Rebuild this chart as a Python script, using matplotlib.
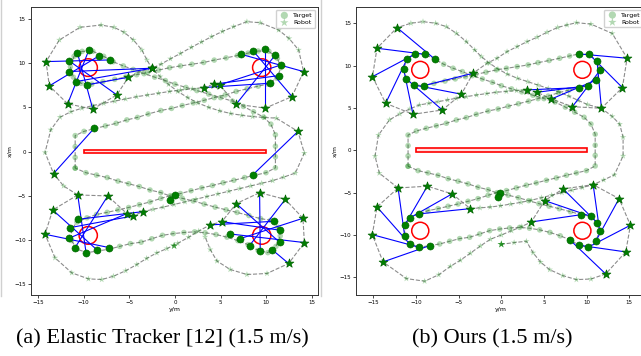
import matplotlib.pyplot as plt
from matplotlib.patches import Circle, Rectangle
from matplotlib.lines import Line2D

# target trajectory (same for both runs)
target_path = [
    (-10.93, -1.88), (-10.93, -0.67), (-10.93, 0.55), (-10.93, 1.8),
    (-9.96, 2.28), (-8.79, 2.6), (-7.62, 2.9), (-6.44, 3.19), (-5.27, 3.58), (-4.1, 3.86),
    (-2.93, 4.25), (-1.55, 4.64), (-0.38, 4.88), (0.8, 5.2), (2.0, 5.5), (3.2, 5.8),
    (4.3, 6.1), (5.5, 6.4), (6.7, 6.8), (7.9, 7.1),
    (9.11, 7.40), (10.17, 7.63), (11.14, 8.31), (11.61, 9.49), (11.22, 10.55), (10.29, 11.34), (9.11, 11.38),
    (8.0, 11.14), (6.84, 10.87), (5.6, 10.6), (4.3, 10.35), (3.14, 10.08), (1.85, 9.88), (0.6, 9.69),
    (-0.58, 9.49), (-1.8, 9.22), (-3.0, 8.95), (-4.2, 8.69), (-5.4, 8.43), (-6.6, 8.17), (-7.9, 7.9),
    (-9.10, 7.63), (-10.28, 7.72), (-11.13, 8.42), (-11.45, 9.6), (-11.05, 10.78), (-10.16, 11.34),
    (-8.99, 11.34), (-7.81, 10.78),
    (-6.76, 10.16), (-5.66, 9.69), (-4.57, 9.29), (-3.39, 8.81), (-2.22, 8.42), (-1.05, 8.03), (0.0, 7.63),
    (1.2, 7.25), (2.4, 6.9), (3.7, 6.5), (5.0, 6.1), (6.3, 5.7), (7.5, 5.1), (8.6, 4.5), (9.7, 3.9), (10.5, 3.1),
    (11.0, 1.9), (11.0, 0.6), (11.0, -0.6), (11.0, -1.85),
    (9.97, -2.4), (8.8, -2.67), (7.63, -2.95), (6.45, -3.26), (5.28, -3.54), (4.1, -3.85), (2.93, -4.12),
    (1.76, -4.44), (0.6, -4.76), (-0.5, -5.0), (-1.55, -5.31), (-2.73, -5.71), (-3.9, -6.02), (-5.07, -6.34),
    (-6.24, -6.61), (-7.42, -6.89), (-8.59, -7.13),
    (-9.64, -7.51), (-10.74, -7.99), (-11.33, -8.85), (-11.33, -10.08), (-10.74, -11.06), (-9.64, -11.45), (-8.4, -11.26),
    (-7.22, -11.06), (-6.05, -10.74), (-4.88, -10.43), (-3.71, -10.27), (-2.54, -9.88), (-1.37, -9.49),
    (-0.19, -9.3), (0.98, -9.17), (2.15, -9.1), (3.3, -9.2), (4.5, -9.4), (5.7, -9.7), (6.9, -10.1),
    (8.01, -10.55), (9.11, -11.21), (10.17, -11.45), (11.06, -10.74), (11.53, -9.56), (11.26, -8.58),
    (10.47, -7.79), (9.38, -7.6),
    (8.1, -7.25), (6.8, -6.9), (5.6, -6.6), (4.4, -6.3), (3.2, -5.95), (2.0, -5.6), (0.8, -5.3), (-0.38, -5.1),
    (-1.55, -4.65), (-2.73, -4.36), (-3.9, -3.97), (-5.07, -3.65), (-6.24, -3.35), (-7.42, -2.95),
    (-8.59, -2.67), (-9.76, -2.4), (-10.93, -1.88),
]

# (a) Elastic Tracker
robot_path_a = [
    (-10.65, -4.92), (-12.2, -3.9), (-13.3, -2.5), (-14.23, -0.11), (-13.6, 2.46), (-12.59, 3.89),
    (-11.4, 4.5), (-10.2, 4.9), (-9.0, 5.2), (-7.8, 5.45), (-6.6, 5.7), (-5.4, 5.95), (-4.2, 6.2), (-3.0, 6.4),
    (-1.8, 6.6), (-0.6, 6.8), (0.6, 6.95), (1.9, 7.1),
    (3.13, 7.24), (4.22, 7.62), (4.88, 7.54), (6.71, 5.36), (9.89, 4.91), (12.82, 6.22), (14.09, 9.05),
    (13.54, 11.5), (12.5, 12.8), (11.35, 13.76), (9.34, 14.58), (7.88, 14.7), (6.42, 14.13), (5.2, 13.6),
    (4.0, 13.0), (2.9, 12.4), (1.8, 11.8), (0.6, 11.1), (-0.5, 10.5), (-1.5, 9.9),
    (-2.53, 9.43), (-3.82, 9.05), (-5.1, 8.41), (-6.37, 6.41), (-9.0, 4.8), (-11.75, 5.4), (-13.76, 7.43),
    (-14.12, 10.18), (-12.66, 12.63), (-10.4, 14.06), (-8.09, 14.32), (-6.67, 14.06), (-5.57, 13.5),
    (-4.55, 12.63), (-3.63, 11.5), (-3.08, 10.37), (-2.53, 9.43),
    (-1.62, 8.48), (-0.7, 7.6), (0.3, 6.8), (1.4, 6.1), (2.5, 5.5), (3.7, 5.0), (4.9, 4.6), (6.1, 4.3),
    (7.3, 4.1), (8.5, 3.95), (9.8, 3.85), (11.1, 3.78),
    (13.47, 2.27), (14.17, -0.18), (13.18, -2.44), (11.9, -2.9), (10.7, -3.3), (9.5, -3.6), (8.3, -3.9),
    (7.1, -4.2), (5.9, -4.5), (4.7, -4.8), (3.5, -5.1), (2.3, -5.4), (1.1, -5.7), (-0.1, -6.0), (-1.3, -6.3),
    (-2.4, -6.55),
    (-3.52, -6.81), (-4.55, -7.29), (-5.27, -7.03), (-7.36, -5.03), (-10.65, -4.92), (-13.39, -6.62),
    (-14.23, -9.37), (-13.14, -12.04), (-11.3, -13.74), (-9.48, -14.42), (-8.02, -14.5), (-6.74, -14.12),
    (-5.4, -13.5), (-4.18, -12.8), (-3.1, -12.1), (-1.99, -11.48), (-0.9, -11.0), (0.3, -10.4),
    (1.5, -9.7), (2.6, -9.0), (3.86, -8.31),
    (5.14, -7.94), (6.71, -5.9), (9.27, -4.66), (12.08, -5.42), (14.02, -7.56), (14.17, -10.31),
    (12.45, -12.68), (10.08, -13.81), (7.88, -13.93), (6.05, -13.36), (4.6, -12.4), (3.86, -11.1), (3.3, -9.67),
]
snap_target_a = [
    (-9.66, 7.54), (-10.83, 7.92), (-11.64, 9.05), (-11.57, 10.25), (-10.69, 11.19), (-9.44, 11.46),
    (-8.28, 10.85), (-7.07, 10.37),
    (10.44, 7.73), (11.35, 8.59), (11.61, 9.8), (10.99, 10.93), (9.89, 11.58), (8.54, 11.42), (7.22, 11.01),
    (-10.65, -7.68), (-11.49, -8.62), (-11.6, -9.82), (-10.94, -10.88), (-9.74, -11.44), (-8.5, -11.18),
    (-7.21, -10.88),
    (5.98, -9.33), (7.07, -9.89), (8.17, -10.65), (9.34, -11.29), (10.62, -11.1), (11.46, -10.28),
    (11.54, -8.92), (10.88, -7.9),
    (-8.83, 2.65), (8.54, -2.63),
]
snap_robot_a = [
    (-5.1, 8.41), (-2.53, 9.43), (-2.53, 9.43), (-6.37, 6.41), (-9.0, 4.8), (-11.75, 5.4),
    (-13.76, 7.43), (-14.12, 10.18),
    (3.13, 7.24), (4.22, 7.62), (4.88, 7.54), (6.71, 5.36), (9.89, 4.91), (12.82, 6.22), (14.09, 9.05),
    (-3.52, -6.81), (-4.55, -7.29), (-5.27, -7.03), (-7.36, -5.03), (-10.65, -4.92), (-13.39, -6.62),
    (-14.23, -9.37),
    (14.17, -10.31), (14.02, -7.56), (12.08, -5.42), (9.27, -4.66), (12.45, -12.68), (6.71, -5.9),
    (5.14, -7.94), (3.86, -8.31),
    (-13.3, -2.5), (13.47, 2.27),
]
start_target_a = [(0.02, -4.92), (-0.53, -5.49)]
start_robot_a = [(-0.09, -10.68)]

# (b) Ours
robot_path_b = [
    (-12.1, -4.45), (-14.3, -2.7), (-14.8, -0.7), (-14.4, 1.8), (-13.1, 3.6),
    (-11.9, 4.3), (-10.7, 4.9), (-9.6, 5.35), (-8.5, 5.55), (-7.4, 5.74), (-6.3, 5.95), (-5.3, 6.14),
    (-4.1, 6.33), (-2.9, 6.53), (-1.7, 6.7), (-0.6, 6.85), (0.6, 6.95), (1.8, 7.05),
    (3.02, 7.13), (4.19, 6.85), (5.87, 6.06), (8.33, 5.15), (11.73, 4.96), (14.19, 7.4), (14.74, 10.87),
    (13.0, 13.8), (10.5, 14.9), (8.8, 15.07), (7.7, 14.8), (6.6, 14.5), (5.36, 13.94), (4.19, 13.35),
    (3.02, 12.83), (1.85, 12.24), (0.67, 11.65), (-0.5, 10.87), (-1.67, 10.28),
    (-3.31, 9.1), (-4.68, 6.62), (-6.91, 4.76), (-10.35, 4.25), (-13.56, 5.55), (-15.1, 8.7),
    (-14.57, 12.05), (-12.22, 14.48),
    (-10.6, 15.0), (-9.18, 15.19), (-7.7, 15.0), (-6.44, 14.6), (-5.27, 13.82), (-4.1, 12.83),
    (-3.12, 11.85), (-2.34, 11.06), (-1.4, 10.3), (-0.4, 9.6), (0.7, 9.0), (1.9, 8.5), (3.1, 8.1),
    (4.3, 7.7), (5.5, 7.3), (6.7, 6.9), (7.9, 6.4), (9.0, 5.9), (10.1, 5.4), (11.73, 4.96),
    (13.0, 4.0), (13.87, 3.08), (14.27, 1.54), (14.27, -0.67), (13.25, -2.9), (12.0, -3.5), (10.76, -4.06),
    (9.5, -4.4), (8.3, -4.7), (7.1, -5.0), (5.9, -5.3), (4.7, -5.6), (3.5, -5.9), (2.3, -6.15), (1.1, -6.35),
    (-0.1, -6.55), (-1.3, -6.7), (-2.5, -6.8),
    (-3.63, -6.89), (-5.77, -5.15), (-8.67, -4.24), (-12.1, -4.45), (-14.57, -6.69), (-15.12, -9.96),
    (-13.86, -13.18), (-11.13, -15.15), (-8.99, -15.46), (-7.34, -14.7), (-5.97, -13.7), (-4.8, -12.98),
    (-3.63, -12.15), (-2.46, -11.3), (-1.28, -10.5), (0.0, -10.0), (1.2, -9.5), (2.4, -9.0),
    (3.52, -8.46), (5.08, -5.94), (7.24, -4.56), (10.76, -4.06), (13.8, -5.71), (15.13, -8.85),
    (14.58, -12.0), (12.23, -14.6), (10.5, -15.2), (8.8, -15.27), (7.2, -14.8), (5.67, -14.1),
    (4.6, -13.2), (3.72, -12.1), (2.94, -10.74), (1.5, -10.9), (0.0, -11.1),
]
snap_target_b = [
    (-9.10, 7.63), (-10.28, 7.72), (-11.13, 8.42), (-11.45, 9.6), (-11.05, 10.78), (-10.16, 11.34),
    (-8.99, 11.34), (-7.81, 10.78),
    (9.11, 7.40), (10.17, 7.63), (11.14, 8.31), (11.61, 9.49), (11.22, 10.55), (10.29, 11.34), (9.11, 11.38),
    (-9.64, -7.51), (-10.74, -7.99), (-11.33, -8.85), (-11.33, -10.08), (-10.74, -11.06), (-9.64, -11.45),
    (-8.4, -11.26),
    (8.01, -10.55), (9.11, -11.21), (10.17, -11.45), (11.06, -10.74), (11.53, -9.56), (11.26, -8.58),
    (10.47, -7.79), (9.38, -7.6),
]
snap_robot_b = [
    (-3.31, 9.1), (-4.68, 6.62), (-6.91, 4.76), (-10.35, 4.25), (-13.56, 5.55), (-15.1, 8.7),
    (-14.57, 12.05), (-12.22, 14.48),
    (3.02, 7.13), (4.19, 6.85), (5.87, 6.06), (8.33, 5.15), (11.73, 4.96), (14.19, 7.4), (14.74, 10.87),
    (-3.63, -6.89), (-5.77, -5.15), (-8.67, -4.24), (-12.1, -4.45), (-14.57, -6.69), (-15.12, -9.96),
    (-13.86, -13.18),
    (12.23, -14.6), (14.58, -12.0), (15.13, -8.85), (13.8, -5.71), (10.76, -4.06), (7.24, -4.56),
    (5.08, -5.94), (3.52, -8.46),
]
start_target_b = [(-0.11, -5.0), (-0.43, -5.47)]
start_robot_b = [(0.0, -11.1)]

obstacle_centers = [(-9.5, 9.5), (9.5, 9.5), (-9.5, -9.5), (9.5, -9.5)]
ticks = [-15, -10, -5, 0, 5, 10, 15]


def xs(pts):
    return [p[0] for p in pts]


def ys(pts):
    return [p[1] for p in pts]


def draw_panel(ax, robot_path, snap_t, snap_r, start_t, start_r, xlim, ylim):
    ax.plot(xs(target_path), ys(target_path), '--', color='gray', lw=0.8, alpha=0.9, zorder=1)
    ax.scatter(xs(target_path), ys(target_path), marker='o', s=16, color='green', alpha=0.3,
               edgecolors='none', label='Target', zorder=2)
    ax.plot(xs(robot_path), ys(robot_path), '--', color='gray', lw=0.8, alpha=0.9, zorder=1)
    ax.scatter(xs(robot_path), ys(robot_path), marker='*', s=24, color='green', alpha=0.3,
               edgecolors='none', label='Robot', zorder=2)

    for c in obstacle_centers:
        ax.add_patch(Circle(c, 1.0, fill=False, edgecolor='red', lw=1.1, zorder=3))
    ax.add_patch(Rectangle((-10, -0.22), 20, 0.44, facecolor='#ffe0e0', edgecolor='red', lw=1.2, zorder=3))

    for t, r in zip(snap_t, snap_r):
        ax.plot([t[0], r[0]], [t[1], r[1]], color='blue', lw=0.8, zorder=4)
    ax.scatter(xs(snap_t) + xs(start_t), ys(snap_t) + ys(start_t), marker='o', s=26,
               color='green', edgecolors='darkgreen', linewidths=0.4, zorder=5)
    ax.scatter(xs(snap_r), ys(snap_r), marker='*', s=44, color='green',
               edgecolors='darkgreen', linewidths=0.5, zorder=5)
    ax.scatter(xs(start_r), ys(start_r), marker='*', s=34, color='green', alpha=0.75,
               edgecolors='none', zorder=5)

    ax.set_xlim(*xlim)
    ax.set_ylim(*ylim)
    ax.set_xticks(ticks)
    ax.set_yticks(ticks)
    ax.tick_params(labelsize=4, length=2, width=0.5, pad=1.5)
    ax.set_xlabel('y/m', fontsize=4.5, labelpad=1.5)
    ax.set_ylabel('x/m', fontsize=4.5, labelpad=1.5)
    for s in ax.spines.values():
        s.set_linewidth(0.7)
        s.set_color('#333333')
    ax.legend(loc='upper right', fontsize=4.5, markerscale=1.3, framealpha=0.9,
              borderpad=0.4, handletextpad=0.4, labelspacing=0.3, edgecolor='#cccccc')


fig = plt.figure(figsize=(6.41, 3.56), dpi=100)
ax1 = fig.add_axes([0.0479, 0.1713, 0.4487, 0.809])
ax2 = fig.add_axes([0.5554, 0.1713, 0.4530, 0.81])

draw_panel(ax1, robot_path_a, snap_target_a, snap_robot_a, start_target_a, start_robot_a,
           (-15.8, 15.7), (-16.25, 16.36))
draw_panel(ax2, robot_path_b, snap_target_b, snap_robot_b, start_target_b, start_robot_b,
           (-17.03, 17.0), (-17.09, 16.96))

# faint edges of the two sub-images
fig.add_artist(Line2D([0.002, 0.002], [0.168, 1.0], color='#d0d0d0', lw=1.0))
fig.add_artist(Line2D([0.5005, 0.5005], [0.168, 1.0], color='#d0d0d0', lw=1.0))

fig.text(0.253, 0.047, '(a) Elastic Tracker [12] (1.5 m/s)', ha='center', va='center',
         fontsize=16, family='Liberation Serif')
fig.text(0.7675, 0.047, '(b) Ours (1.5 m/s)', ha='center', va='center',
         fontsize=16, family='Liberation Serif')

fig.savefig('out.png', dpi=100)
